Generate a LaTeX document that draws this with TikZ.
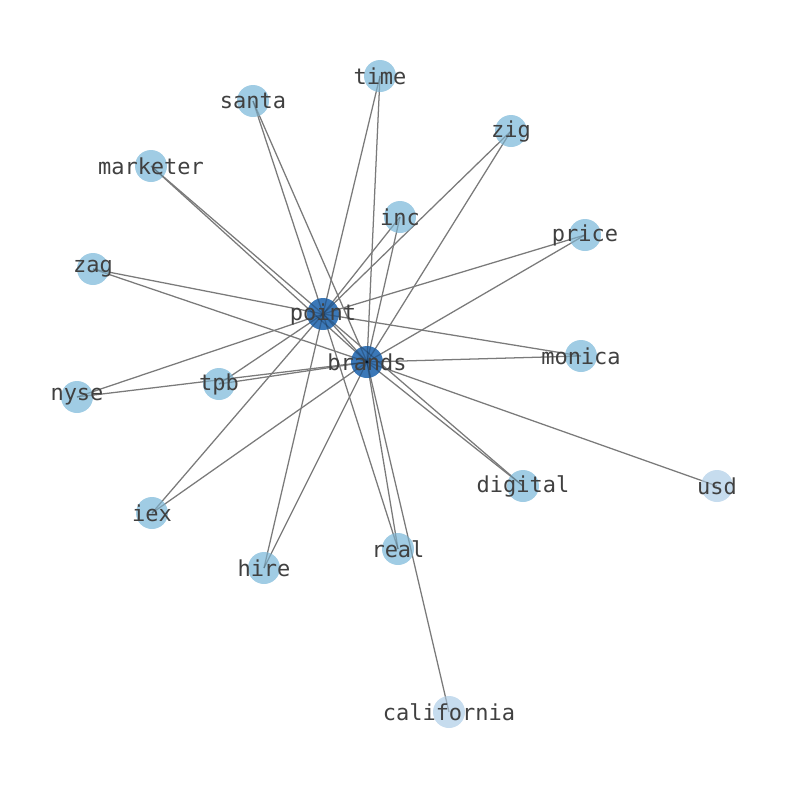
\documentclass[tikz,border=0pt]{standalone}
\usepackage{fontspec}
\newfontfamily\monof{DejaVu Sans Mono}
\definecolor{lightn}{HTML}{A0CCE4}
\definecolor{darkn}{HTML}{3B78B8}
\definecolor{paleN}{HTML}{C6DCEE}
\definecolor{edgec}{HTML}{7A7A7A}
\definecolor{labc}{HTML}{404040}
\tikzset{
  vtx/.style={circle, draw=none, minimum size=24pt, inner sep=0pt},
  lt/.style={vtx, fill=lightn},
  dk/.style={vtx, fill=darkn},
  pl/.style={vtx, fill=paleN},
  lab/.style={inner sep=0pt, text=labc, font=\monof\fontsize{16.5pt}{18pt}\selectfont},
  edg/.style={draw=edgec, line width=0.95pt},
  edgover/.style={draw=black, line width=0.95pt, draw opacity=0.22}
}
\begin{document}
\begin{tikzpicture}[x=0.75pt,y=-0.75pt]
\path[use as bounding box] (0,0) rectangle (794,790);
% coordinates
\coordinate (point) at (323,314);
\coordinate (brands) at (367,362);
\coordinate (time) at (380,76);
\coordinate (santa) at (253,101);
\coordinate (zig) at (511,131);
\coordinate (marketer) at (151,166);
\coordinate (inc) at (400,217);
\coordinate (price) at (585,235);
\coordinate (zag) at (93,269);
\coordinate (monica) at (581,356);
\coordinate (nyse) at (77,397);
\coordinate (tpb) at (219,384);
\coordinate (digital) at (523,486);
\coordinate (usd) at (717,486);
\coordinate (iex) at (152,513);
\coordinate (real) at (398,549);
\coordinate (hire) at (264,568);
\coordinate (california) at (449,712);
% edges
\foreach \n in {time,santa,zig,marketer,inc,price,zag,monica,nyse,tpb,digital,iex,real,hire}{
  \draw[edg] (point) -- (\n);
  \draw[edg] (brands) -- (\n);
}
\draw[edg] (point) -- (brands);
\draw[edg] (brands) -- (usd);
\draw[edg] (brands) -- (california);
% vertices
\foreach \n in {time,santa,zig,marketer,inc,price,zag,monica,nyse,tpb,digital,iex,real,hire}{
  \node[lt] (\n-c) at (\n) {};
}
\node[pl] (usd-c) at (usd) {};
\node[pl] (california-c) at (california) {};
\node[dk] (point-c) at (point) {};
\node[dk] (brands-c) at (brands) {};
% edges seen through the translucent vertices
\begin{scope}
\clip (point) circle (16) (brands) circle (16)
  \foreach \n in {time,santa,zig,marketer,inc,price,zag,monica,nyse,tpb,digital,iex,real,hire,usd,california}{ (\n) circle (16) };
\foreach \n in {time,santa,zig,marketer,inc,price,zag,monica,nyse,tpb,digital,iex,real,hire}{
  \draw[edgover] (point) -- (\n);
  \draw[edgover] (brands) -- (\n);
}
\draw[edgover] (point) -- (brands);
\draw[edgover] (brands) -- (usd);
\draw[edgover] (brands) -- (california);
\end{scope}
% labels
\foreach \n in {point,brands,time,santa,zig,marketer,inc,price,zag,monica,nyse,tpb,digital,usd,iex,real,hire,california}{
  \node[lab] (\n-l) at (\n) {\n};
}
\end{tikzpicture}
\end{document}
